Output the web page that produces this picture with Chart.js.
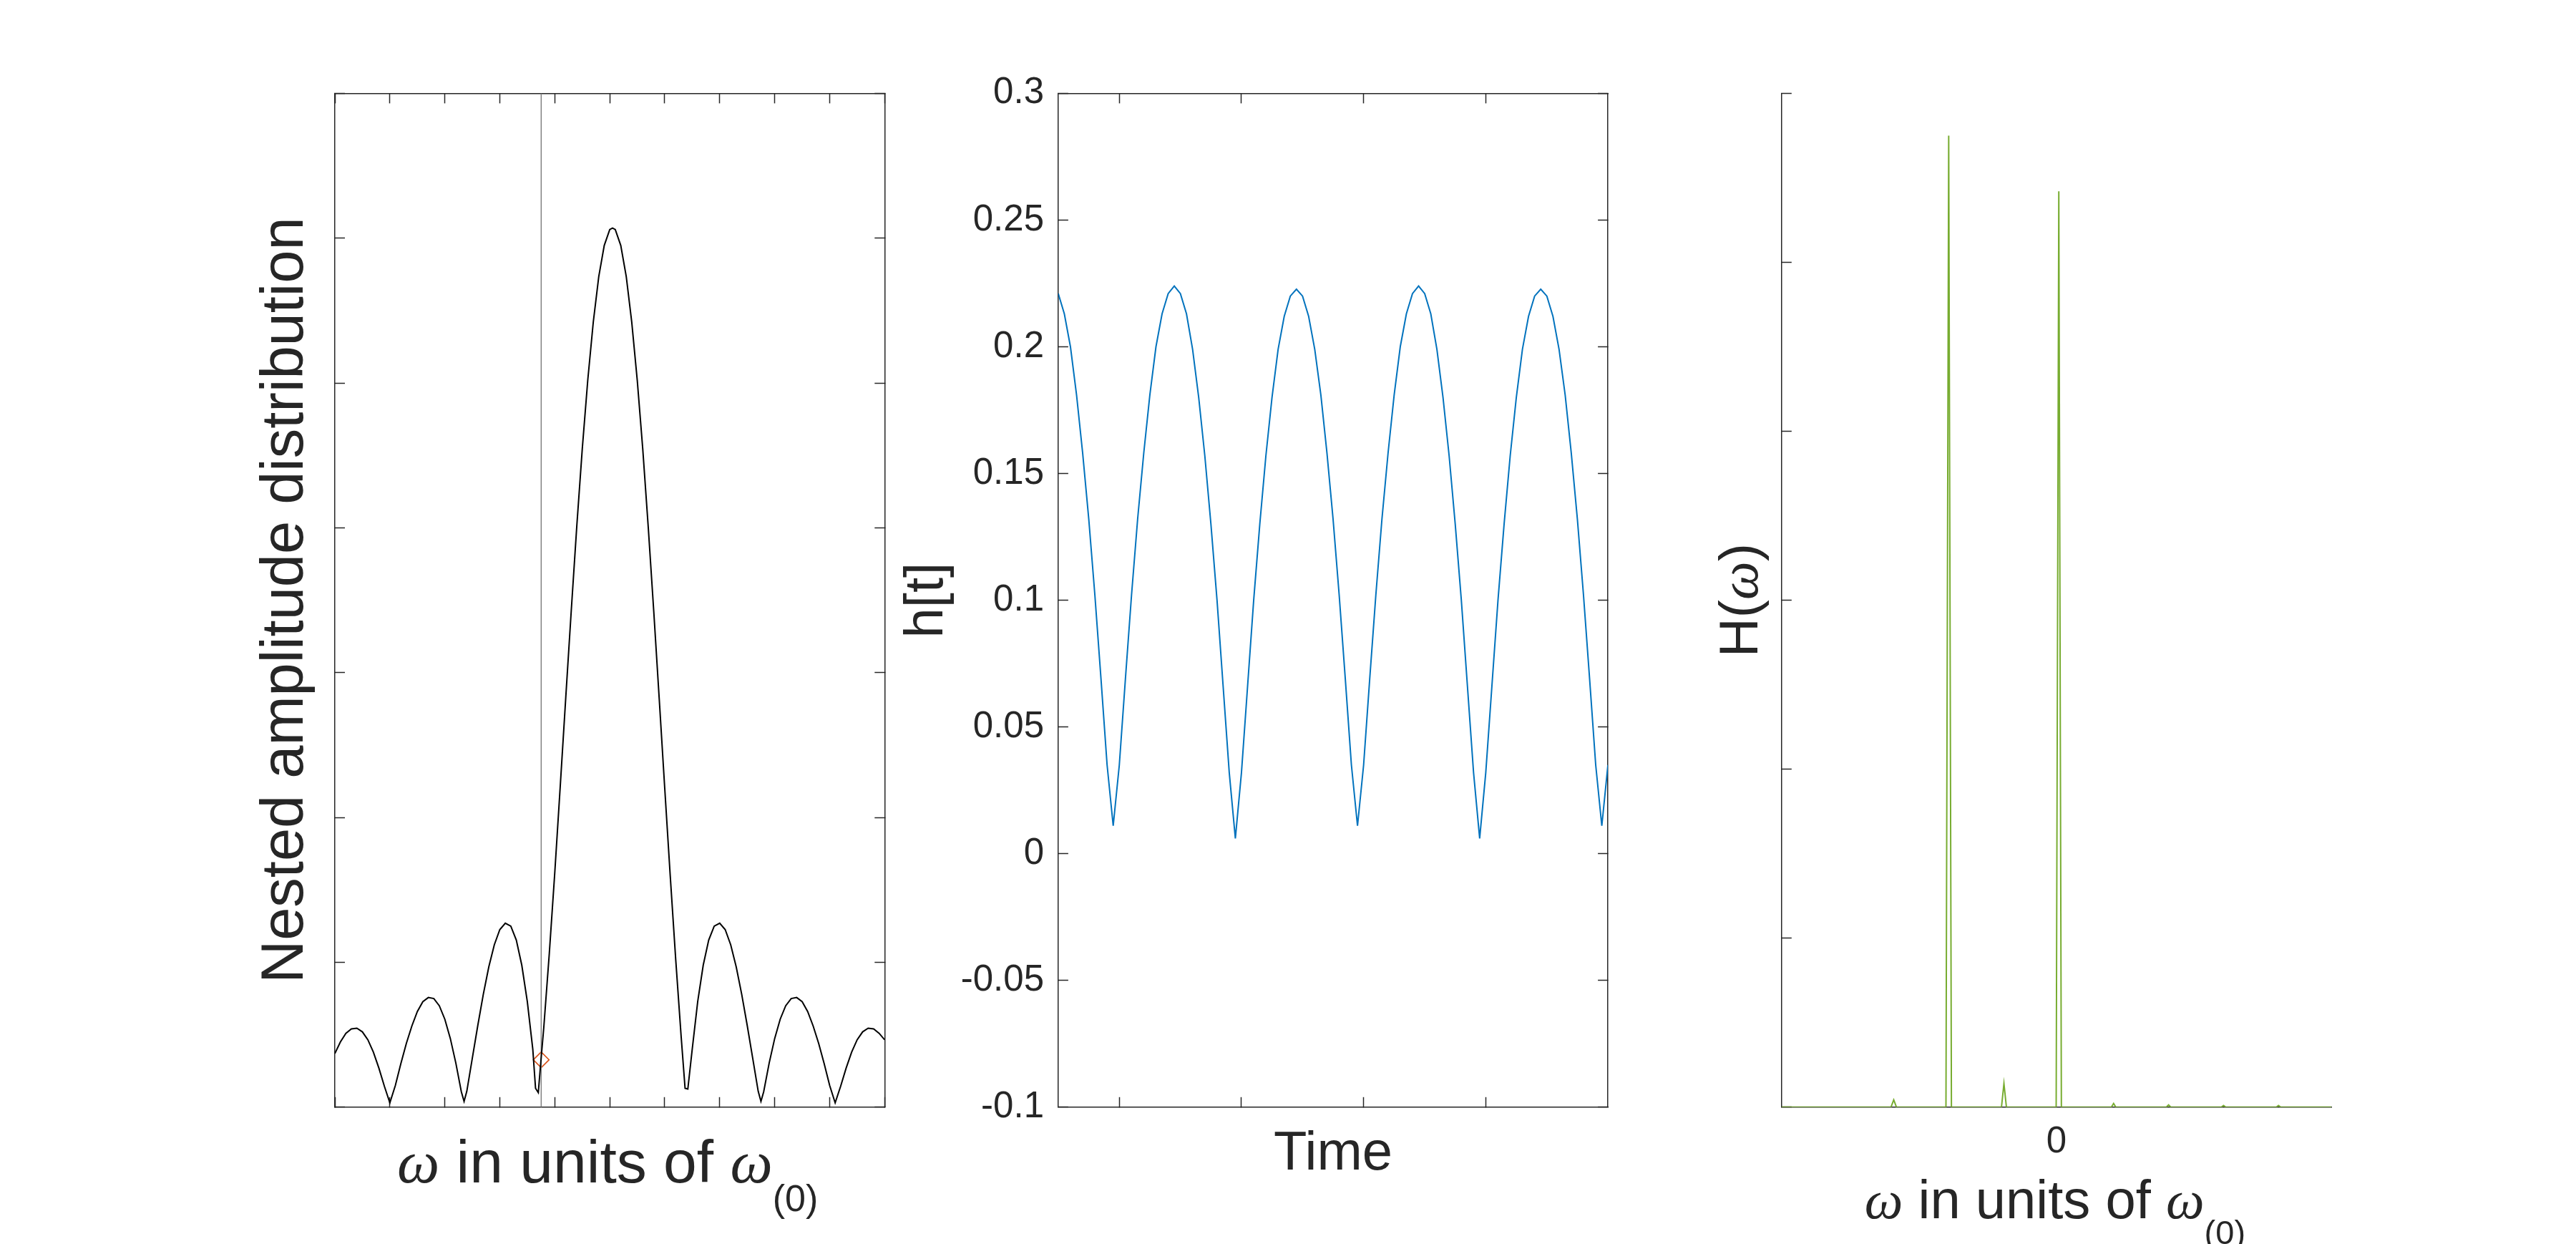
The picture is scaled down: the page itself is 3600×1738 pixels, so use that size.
<!DOCTYPE html>
<html><head><meta charset="utf-8">
<script src="https://cdn.jsdelivr.net/npm/chart.js@4.4.1/dist/chart.umd.min.js"></script>
<style>
html,body{margin:0;padding:0;background:#fff;}
body{width:3600px;height:1738px;position:relative;overflow:hidden;}
canvas{position:absolute;left:0;top:0;}
</style></head><body>
<canvas id="c1" width="3600" height="1738"></canvas>
<canvas id="c2" width="3600" height="1738"></canvas>
<canvas id="c3" width="3600" height="1738"></canvas>
<script>
// ---------- Panel 1: nested amplitude distribution ----------
const ampOmega = [
 -5.0,-4.9,-4.8,-4.7,-4.6,-4.5,-4.4,-4.3,-4.2,-4.1,
 -4.0,-3.9,-3.8,-3.7,-3.6,-3.5,-3.4,-3.3,-3.2,-3.1,
 -3.0,-2.9,-2.8,-2.7,-2.65,-2.6,-2.5,-2.4,-2.3,-2.2,
 -2.1,-2.0,-1.9,-1.8,-1.7,-1.6,-1.5,-1.4,-1.35,-1.3,
 -1.25,-1.2,-1.1,-1.0,-0.9,-0.8,-0.7,-0.6,-0.5,-0.4,
 -0.3,-0.2,-0.1,0.0,0.05,0.1,0.2,0.3,0.4,0.5,0.6,
 0.7,0.8,0.9,1.0,1.1,1.2,1.3,1.37,1.42,1.5,
 1.6,1.7,1.8,1.9,2.0,2.1,2.2,2.3,2.4,2.5,
 2.6,2.7,2.75,2.8,2.9,3.0,3.1,3.2,3.3,3.4,
 3.5,3.6,3.7,3.8,3.9,4.0,4.1,4.2,4.3,4.4,
 4.5,4.6,4.7,4.8,4.9,5.0];
const ampValues = [
 0.37,0.45,0.51,0.54,0.545,0.52,0.465,0.38,0.27,0.145,
 0.03,0.15,0.30,0.44,0.56,0.66,0.728,0.757,0.75,0.70,
 0.607,0.474,0.305,0.107,0.04,0.11,0.338,0.565,0.779,0.969,
 1.121,1.226,1.27,1.25,1.154,0.98,0.73,0.40,0.13,0.10,
 0.33,0.55,1.06,1.62,2.22,2.83,3.43,4.01,4.545,5.02,
 5.42,5.735,5.95,6.06,6.07,6.06,5.95,5.735,5.42,5.02,4.545,
 4.005,3.425,2.818,2.202,1.597,1.018,0.48,0.13,0.125,0.40,
 0.73,0.98,1.154,1.25,1.27,1.226,1.121,0.969,0.779,0.565,
 0.338,0.11,0.04,0.107,0.305,0.474,0.607,0.70,0.75,0.757,
 0.728,0.66,0.56,0.44,0.30,0.15,0.03,0.145,0.27,0.38,
 0.465,0.52,0.545,0.54,0.51,0.465];
const cursorOmega = -1.247;
const cursorValue = 0.327;

// ---------- Panel 2: h[t] ----------
const timeValues = [
 0.50,0.55,0.60,0.65,0.70,0.75,0.80,0.85,0.90,0.95,
 1.00,1.05,1.10,1.15,1.20,1.25,1.30,1.35,1.40,1.45,
 1.50,1.55,1.60,1.65,1.70,1.75,1.80,1.85,1.90,1.95,
 2.00,2.05,2.10,2.15,2.20,2.25,2.30,2.35,2.40,2.45,
 2.50,2.55,2.60,2.65,2.70,2.75,2.80,2.85,2.90,2.95,
 3.00,3.05,3.10,3.15,3.20,3.25,3.30,3.35,3.40,3.45,
 3.50,3.55,3.60,3.65,3.70,3.75,3.80,3.85,3.90,3.95,
 4.00,4.05,4.10,4.15,4.20,4.25,4.30,4.35,4.40,4.45,
 4.50,4.55,4.60,4.65,4.70,4.75,4.80,4.85,4.90,4.95,
 5.00];
const hValues = [
 0.221,0.213,0.200,0.181,0.158,0.132,0.102,0.069,0.035,0.011,
 0.035,0.069,0.102,0.132,0.158,0.181,0.200,0.213,0.221,0.224,
 0.221,0.213,0.199,0.180,0.157,0.130,0.100,0.066,0.032,0.006,
 0.032,0.066,0.100,0.130,0.157,0.180,0.199,0.212,0.220,0.2227,
 0.220,0.212,0.199,0.181,0.158,0.132,0.102,0.069,0.035,0.011,
 0.035,0.069,0.102,0.132,0.158,0.181,0.200,0.213,0.221,0.224,
 0.221,0.213,0.199,0.180,0.157,0.130,0.100,0.066,0.032,0.006,
 0.032,0.066,0.100,0.130,0.157,0.180,0.199,0.212,0.220,0.2227,
 0.220,0.212,0.199,0.181,0.158,0.132,0.102,0.069,0.035,0.011,
 0.035];
const hTickValues = [-0.1,-0.05,0,0.05,0.1,0.15,0.2,0.25,0.3];
const hTickLabels = ['-0.1','-0.05','0','0.05','0.1','0.15','0.2','0.25','0.3'];
const timeTickValues = [1,2,3,4];

// ---------- Panel 3: H(omega) ----------
const specOmega = [-5,-3.01,-2.96,-2.91,-2.01,-1.96,-1.91,-1.0,-0.955,-0.91,-0.005,0.043,0.09,1.0,1.04,1.08,2.0,2.04,2.08,3.0,3.04,3.08,4.0,4.04,4.08,5];
const specValues = [0,0,0.043,0,0,5.75,0,0,0.14,0,0,5.42,0,0,0.022,0,0,0.013,0,0,0.01,0,0,0.01,0,0];
const specTickValues = [0];
const specTickLabels = ['0'];

// ---------- styling ----------
const AX = '#262626';
const SANS = '"Liberation Sans", Arial, Helvetica, sans-serif';
const SERIF = '"Liberation Serif", "DejaVu Serif", serif';
Chart.defaults.font.family = SANS;
Chart.defaults.color = AX;

function pts(xs, ys) { return xs.map((x, i) => ({x: x, y: ys[i]})); }

function axis(pos, min, max, size, extra) {
  const horiz = (pos === 'top' || pos === 'bottom');
  return Object.assign({
    type: 'linear', position: pos, min: min, max: max,
    grid: {display: true, drawOnChartArea: false, drawTicks: true, tickLength: -14, tickColor: AX, tickWidth: 1.5},
    border: {display: true, color: AX, width: 1.5},
    ticks: {display: false},
    afterFit: function (s) { if (horiz) s.height = size; else s.width = size; }
  }, extra || {});
}

function drawRuns(ctx, runs, cx, baseline) {
  let total = 0;
  runs.forEach(r => { ctx.font = r.font; r.w = ctx.measureText(r.text).width; total += r.w; });
  let x = cx - total / 2;
  ctx.fillStyle = AX; ctx.textBaseline = 'alphabetic'; ctx.textAlign = 'left';
  runs.forEach(r => { ctx.font = r.font; ctx.fillText(r.text, x, baseline + (r.dy || 0)); x += r.w; });
}
function omegaRuns(size, subSize, subDrop) {
  return [
    {text: 'ω', font: 'italic ' + size + 'px ' + SERIF},
    {text: ' in units of ', font: size + 'px ' + SANS},
    {text: 'ω', font: 'italic ' + size + 'px ' + SERIF},
    {text: '(0)', font: subSize + 'px ' + SANS, dy: subDrop}
  ];
}

const common = {
  type: 'scatter',
  responsive: false
};
const baseOpts = {
  responsive: false, animation: false, devicePixelRatio: 1, events: [],
  plugins: {legend: {display: false}, tooltip: {enabled: false}}
};

// ---------- Chart 1 ----------
new Chart(document.getElementById('c1'), {
  type: 'scatter',
  data: {datasets: [
    {data: pts(ampOmega, ampValues), showLine: true, borderColor: '#000000', borderWidth: 2, pointRadius: 0},
    {data: [{x: cursorOmega, y: 0}, {x: cursorOmega, y: 7}], showLine: true, borderColor: '#808080', borderWidth: 1.5, pointRadius: 0},
    {data: [{x: cursorOmega, y: cursorValue}], showLine: false, pointStyle: 'rectRot', pointRadius: 11,
     borderColor: '#D95319', backgroundColor: 'rgba(0,0,0,0)', borderWidth: 1.6}
  ]},
  options: Object.assign({}, baseOpts, {
    layout: {padding: {left: 350.7, right: 2323.7, top: 90.4, bottom: 151.2}},
    scales: {
      x: axis('bottom', -5, 5, 40, {ticks: {display: false, stepSize: 1}}),
      x2: axis('top', -5, 5, 40, {ticks: {display: false, stepSize: 1}}),
      y: axis('left', 0, 7, 117.3, {ticks: {display: false, stepSize: 1},
        title: {display: true, text: 'Nested amplitude distribution', color: AX, padding: 0,
                font: {family: SANS, size: 83, lineHeight: 1.2}}}),
      y2: axis('right', 0, 7, 40, {ticks: {display: false, stepSize: 1}})
    }
  }),
  plugins: [{id: 'xl1', afterDraw(chart) {
    const ca = chart.chartArea, ctx = chart.ctx;
    ctx.save();
    drawRuns(ctx, omegaRuns(84, 52, 40), (ca.left + ca.right) / 2 - 3, ca.bottom + 105);
    ctx.restore();
  }}]
});

// ---------- Chart 2 ----------
const setTicks = vals => (s => { s.ticks = vals.map(v => ({value: v})); });
new Chart(document.getElementById('c2'), {
  type: 'scatter',
  data: {datasets: [
    {data: pts(timeValues, hValues), showLine: true, borderColor: '#0072BD', borderWidth: 2, pointRadius: 0}
  ]},
  options: Object.assign({}, baseOpts, {
    layout: {padding: {left: 1250.1, right: 1312.9, top: 90.4, bottom: 79.4}},
    scales: {
      x: axis('bottom', 0.5, 5, 111.8, {afterBuildTicks: setTicks(timeTickValues),
        title: {display: true, text: 'Time', color: AX, padding: 0, font: {family: SANS, size: 76, lineHeight: 1.2}}}),
      x2: axis('top', 0.5, 5, 40, {afterBuildTicks: setTicks(timeTickValues)}),
      y: axis('left', -0.1, 0.3, 228.8, {afterBuildTicks: setTicks(hTickValues),
        ticks: {display: true, padding: 33.9, color: AX, font: {family: SANS, size: 51, lineHeight: 1.2},
                callback: v => hTickLabels[hTickValues.indexOf(v)]},
        title: {display: true, text: 'h[t]', color: AX, padding: 0, font: {family: SANS, size: 76, lineHeight: 1.2}}}),
      y2: axis('right', -0.1, 0.3, 40, {afterBuildTicks: setTicks(hTickValues)})
    }
  })
});

// ---------- Chart 3 ----------
new Chart(document.getElementById('c3'), {
  type: 'scatter',
  data: {datasets: [
    {data: pts(specOmega, specValues), showLine: true, borderColor: '#77AC30', borderWidth: 2, pointRadius: 0}
  ]},
  options: Object.assign({}, baseOpts, {
    layout: {padding: {left: 2449.8, right: 342, top: 130.4, bottom: 91.2}},
    scales: {
      x: {type: 'linear', position: 'bottom', min: -5, max: 5,
        afterBuildTicks: setTicks(specTickValues),
        grid: {display: false, drawTicks: false},
        border: {display: true, color: AX, width: 1.5},
        ticks: {display: true, padding: 18.2, color: AX, font: {family: SANS, size: 51, lineHeight: 1.2},
                maxRotation: 0, callback: v => specTickLabels[specTickValues.indexOf(v)]},
        afterFit: s => { s.height = 100; }},
      y: axis('left', 0, 6, 40, {ticks: {display: false, stepSize: 1}})
    }
  }),
  plugins: [{id: 'xl3', afterDraw(chart) {
    const ca = chart.chartArea, ctx = chart.ctx;
    ctx.save();
    drawRuns(ctx, omegaRuns(76, 47, 36), (ca.left + ca.right) / 2 - 2, ca.bottom + 155.1);
    ctx.restore();
    ctx.save();
    ctx.translate(ca.left - 33.8, (ca.top + ca.bottom) / 2);
    ctx.rotate(-Math.PI / 2);
    drawRuns(ctx, [
      {text: 'H', font: '76px ' + SANS},
      {text: '(', font: '76px ' + SANS},
      {text: 'ω', font: 'italic 76px ' + SERIF},
      {text: ')', font: '76px ' + SANS}
    ], 0, 0);
    ctx.restore();
  }}]
});
</script>
</body></html>
